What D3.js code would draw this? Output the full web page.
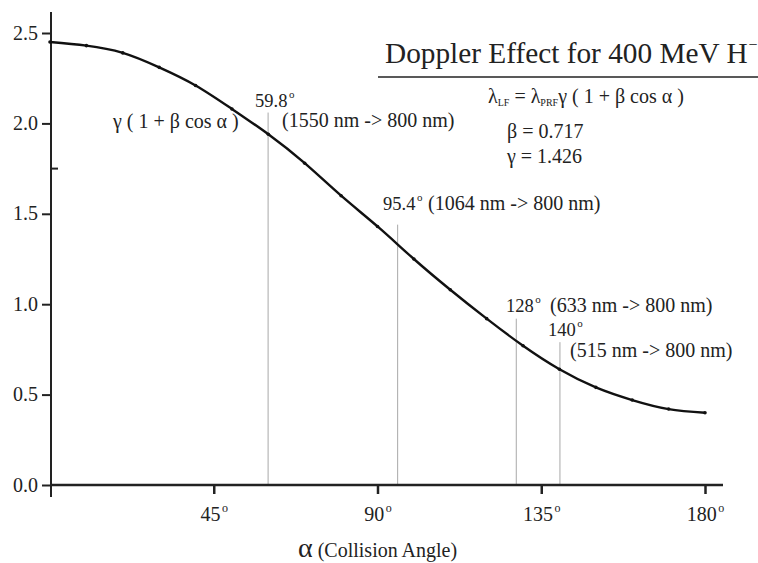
<!DOCTYPE html>
<html>
  <head>
    <title>Doppler Effect for 400 MeV H-</title>
    <script src="https://d3js.org/d3.v7.min.js"></script>
    <style>
      body { margin: 0; background: #fff; }
      svg { display: block; }
      text { font-family: "Liberation Serif", "Times New Roman", serif; fill: #222; }
      .tick-label { font-size: 20px; }
      .note { font-size: 20px; }
      .mark-label { font-size: 18.5px; }
      .marker { stroke: #a8a8a8; stroke-width: 1; }
    </style>
  </head>
  <body>
    <svg width="758" height="563"></svg>

    <script>
      // collision angle (deg) and lab-frame wavelength factor
      const angles = [0, 10, 20, 30, 40, 50, 60, 70, 80, 90, 100, 110, 120, 130, 140, 150, 160, 170, 180];
      const factors = [2.45, 2.43, 2.39, 2.31, 2.21, 2.08, 1.94, 1.78, 1.60, 1.43, 1.25, 1.08, 0.92, 0.77, 0.64, 0.54, 0.47, 0.42, 0.40];

      const xTicks = [45, 90, 135, 180];
      const yTicks = [0, 0.5, 1.0, 1.5, 2.0, 2.5];
      const yMinorTicks = [1.75];

      // marked angles and how high their guide lines reach
      const markAngles = [59.8, 95.4, 128, 140];
      const markTops = [2.06, 1.44, 0.92, 0.79];
      const markLabels = ["59.8", "95.4", "128", "140"];
      const markNotes = ["(1550 nm -> 800 nm)", "(1064 nm -> 800 nm)", "(633 nm -> 800 nm)", "(515 nm -> 800 nm)"];

      function degText(sel, value, size) {
        sel.text(null);
        sel.append("tspan").text(value);
        sel.append("tspan").attr("font-size", size).attr("dy", -9).attr("dx", 1.5).text("o");
      }

      function main() {
        const svg = d3.select("svg");
        const x = d3.scaleLinear().domain([0, 180]).range([50, 705]);
        const y = d3.scaleLinear().domain([0, 2.5]).range([485, 33]);
        const data = angles.map((a, i) => ({ a, v: factors[i] }));

        // guide lines for the marked angles
        svg.selectAll(".marker").data(markAngles).enter().append("line")
            .attr("class", "marker")
            .attr("x1", d => x(d) + 0.5).attr("x2", d => x(d) + 0.5)
            .attr("y1", (d, i) => y(markTops[i])).attr("y2", y(0));

        // y axis
        const yAxis = svg.append("g").attr("transform", "translate(51,0)")
            .call(d3.axisLeft(y).tickValues(yTicks).tickFormat(d3.format(".1f")).tickSize(9).tickPadding(4));
        yAxis.select(".domain").remove();
        yAxis.selectAll(".tick line").attr("stroke", "#222").attr("stroke-width", 2);
        yAxis.selectAll(".tick text").attr("class", "tick-label")
            .attr("font-family", null).attr("font-size", null).attr("fill", "#222").attr("dy", "0.3em");
        svg.append("g").selectAll("line").data(yMinorTicks).enter().append("line")
            .attr("x1", 51).attr("x2", 58).attr("y1", d => y(d)).attr("y2", d => y(d))
            .attr("stroke", "#222").attr("stroke-width", 2);
        svg.append("line").attr("x1", 51).attr("x2", 51).attr("y1", 12).attr("y2", 497)
            .attr("stroke", "#222").attr("stroke-width", 2);

        // x axis
        const xAxis = svg.append("g").attr("transform", "translate(0,485)")
            .call(d3.axisBottom(x).tickValues(xTicks).tickSize(9).tickPadding(6));
        xAxis.select(".domain").remove();
        xAxis.selectAll(".tick line").attr("stroke", "#222").attr("stroke-width", 2.5);
        xAxis.selectAll(".tick text").attr("class", "tick-label")
            .attr("font-family", null).attr("font-size", null).attr("fill", "#222")
            .attr("dy", "1.05em")
            .each(function(d) { degText(d3.select(this), d, 12); });
        svg.append("line").attr("x1", 50).attr("x2", 723).attr("y1", 485).attr("y2", 485)
            .attr("stroke", "#222").attr("stroke-width", 2.5);

        // the curve
        const line = d3.line().x(d => x(d.a)).y(d => y(d.v)).curve(d3.curveNatural);
        svg.append("path").datum(data)
            .attr("fill", "none").attr("stroke", "#111").attr("stroke-width", 2.4)
            .attr("d", line);
        svg.selectAll(".pt").data(data).enter().append("circle")
            .attr("class", "pt")
            .attr("cx", d => x(d.a)).attr("cy", d => y(d.v)).attr("r", 1.8)
            .attr("fill", "#111");

        // marker labels
        const labelPos = [[255, 107], [383, 210], [506, 312], [548, 336]];
        const notePos = [[282, 127], [428, 210], [550, 312], [570, 357]];
        markLabels.forEach((t, i) => {
          const lab = svg.append("text").attr("class", "mark-label")
              .attr("x", labelPos[i][0]).attr("y", labelPos[i][1]);
          degText(lab, t, 11);
          svg.append("text").attr("class", "note")
              .attr("x", notePos[i][0]).attr("y", notePos[i][1]).text(markNotes[i]);
        });

        svg.append("text").attr("class", "note").attr("x", 113).attr("y", 128)
            .text("γ ( 1 + β cos α )");

        // title block
        const title = svg.append("text").attr("x", 385).attr("y", 63).attr("font-size", 29.3);
        title.append("tspan").text("Doppler Effect for 400 MeV H");
        title.append("tspan").attr("font-size", 16).attr("dy", -13).attr("dx", 1).text("−");
        svg.append("line").attr("x1", 378).attr("x2", 758).attr("y1", 77).attr("y2", 77)
            .attr("stroke", "#222").attr("stroke-width", 1.5);

        const f = svg.append("text").attr("class", "note").attr("x", 488).attr("y", 103);
        f.append("tspan").text("λ");
        f.append("tspan").attr("font-size", 10).attr("dy", 3).text("LF");
        f.append("tspan").attr("dy", -3).text(" = λ");
        f.append("tspan").attr("font-size", 10).attr("dy", 3).text("PRF");
        f.append("tspan").attr("dy", -3).text("γ ( 1 + β cos α )");
        svg.append("text").attr("class", "note").attr("x", 507).attr("y", 138).text("β = 0.717");
        svg.append("text").attr("class", "note").attr("x", 507).attr("y", 163).text("γ = 1.426");

        // x axis title
        const xt = svg.append("text").attr("x", 298).attr("y", 557).attr("font-size", 20);
        xt.append("tspan").attr("font-size", 28).text("α");
        xt.append("tspan").text(" (Collision Angle)");
      }
      main();
    </script>
  </body>
</html>
